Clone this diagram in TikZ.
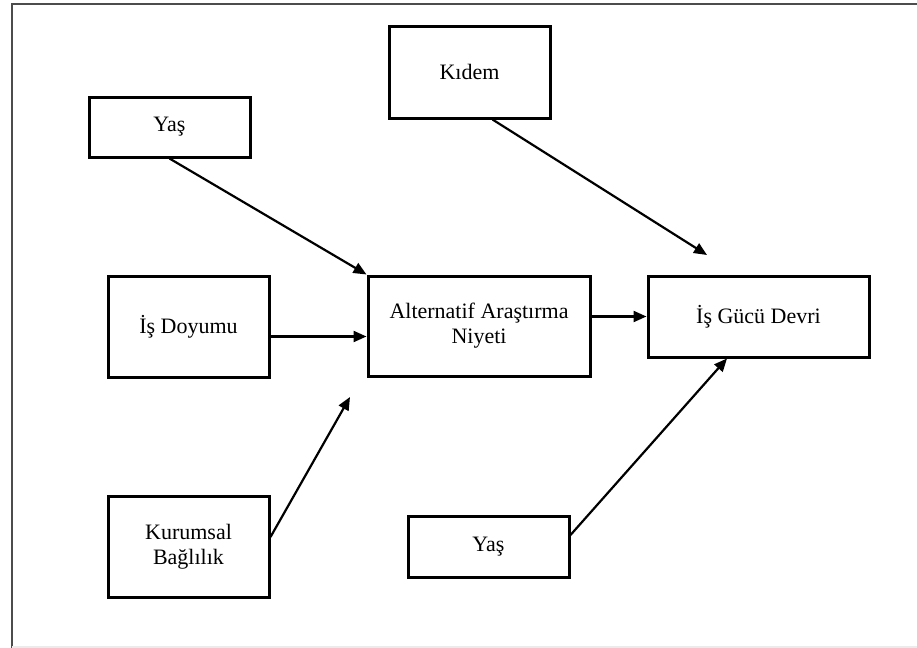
\documentclass[tikz,border=0pt]{standalone}
\usepackage{fontspec}
\setmainfont{Liberation Serif}
\usetikzlibrary{arrows.meta}

\tikzset{
  kutu/.style={draw, line width=1.5pt, align=center, inner sep=0pt,
    font=\fontsize{11}{12.5}\selectfont},
  ok/.style={line width=1.1pt, arrows={-Triangle[length=6.5pt,width=5.5pt]}},
}

\begin{document}
\begin{tikzpicture}[x=0.5pt,y=-0.5pt]
        \useasboundingbox (0,0) rectangle (917,648);
        % frame
        \draw[black!70, line width=1.3pt] (12,648) -- (12,4) -- (917,4);
        \draw[black!8, line width=1pt] (12,646.5) -- (917,646.5);
        % boxes
        \node[kutu, minimum width=80.5pt, minimum height=30pt] (yas1) at (169.5,127) {Yaş};
        \node[kutu, minimum width=80.5pt, minimum height=46pt] (kidem) at (469.5,72) {Kıdem};
        \node[kutu, minimum width=80.5pt, minimum height=50.5pt] (doyum) at (188.5,326.5) {İş Doyumu};
        \node[kutu, minimum width=111pt, minimum height=50pt] (niyet) at (479,326) {Alternatif Araştırma\\Niyeti};
        \node[kutu, minimum width=110.5pt, minimum height=40.5pt] (devir) at (758.5,316.5) {İş Gücü Devri};
        \node[kutu, minimum width=80.5pt, minimum height=50.5pt] (bagli) at (188.5,546.5) {Kurumsal\\Bağlılık};
        \node[kutu, minimum width=80.5pt, minimum height=30.5pt] (yas2) at (488.5,546.5) {Yaş};
        % free ends
        \coordinate (kidemucu) at (707,255);
        \coordinate (bagliucu) at (350,397);
        % arrows
        \draw[ok] (yas1.south) -- (niyet.north west);
        \draw[ok] ([xshift=11.5pt]kidem.south) -- (kidemucu);
        \draw[ok] ([yshift=-5pt]doyum.east) -- ([yshift=-5pt]doyum.east -| niyet.west);
        \draw[ok] (niyet.east |- devir.west) -- (devir.west);
        \draw[ok] ([yshift=4.75pt]bagli.east) -- (bagliucu);
        \draw[ok] ([yshift=5.75pt]yas2.east) -- ([xshift=-15.75pt]devir.south);
      \end{tikzpicture}
\end{document}
